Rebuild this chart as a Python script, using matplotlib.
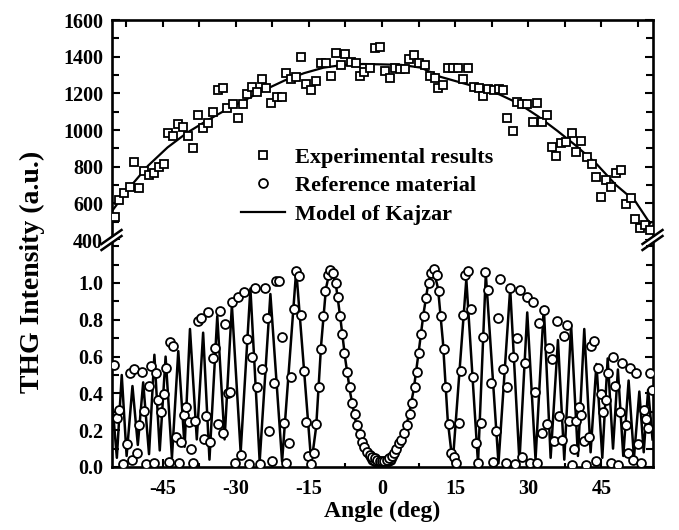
import matplotlib
matplotlib.use("Agg")
import matplotlib.pyplot as plt
from matplotlib.lines import Line2D
from matplotlib.patches import Rectangle
from matplotlib.ticker import MultipleLocator

plt.rcParams['font.family'] = 'Liberation Serif'
plt.rcParams['font.weight'] = 'bold'
plt.rcParams['axes.unicode_minus'] = False

# experimental THG (top panel, squares)
exp_x = [-54.7, -53.9, -52.9, -51.7, -50.9, -49.8, -48.9, -47.8, -46.8, -45.8,
         -44.8, -43.9, -42.9, -41.8, -40.8, -39.8, -38.7, -37.7, -36.7, -35.7,
         -34.6, -33.6, -32.6, -31.7, -30.5, -29.6, -28.6, -27.6, -26.6, -25.6,
         -24.6, -23.7, -22.7, -21.6, -20.6, -19.7, -18.7, -17.7, -16.6, -15.6,
         -14.6, -13.6, -12.5, -11.5, -10.5, -9.4, -8.5, -7.5, -6.4, -5.4,
         -4.6, -3.6, -2.5, -1.5, -0.5, 0.6, 1.6, 2.6, 3.6, 4.7,
         5.5, 6.6, 7.6, 8.8, 9.8, 10.8, 11.5, 12.5, 13.6, 14.6,
         15.6, 16.6, 17.7, 18.9, 19.9, 20.7, 21.8, 23.0, 24.0, 24.8,
         25.7, 26.8, 27.8, 28.8, 29.8, 30.9, 31.9, 32.9, 33.9, 34.8,
         35.8, 36.8, 37.8, 38.9, 39.9, 40.9, 42.0, 43.0, 43.9, 44.9,
         45.9, 47.0, 48.0, 49.0, 50.0, 51.1, 51.9, 52.9, 53.9, 55.0]
exp_y = [524, 618, 655, 691, 824, 685, 778, 755, 764, 797,
         813, 985, 967, 1031, 1018, 967, 904, 1082, 1013, 1040,
         1100, 1218, 1228, 1122, 1142, 1064, 1142, 1195, 1233, 1206,
         1278, 1228, 1146, 1182, 1182, 1313, 1278, 1291, 1396, 1249,
         1218, 1267, 1364, 1364, 1295, 1418, 1355, 1413, 1373, 1364,
         1295, 1318, 1340, 1446, 1451, 1322, 1285, 1336, 1331, 1331,
         1386, 1409, 1367, 1355, 1295, 1282, 1228, 1246, 1336, 1340,
         1340, 1277, 1340, 1236, 1231, 1185, 1224, 1218, 1224, 1218,
         1064, 995, 1151, 1142, 1142, 1042, 1146, 1042, 1082, 909,
         860, 931, 936, 982, 882, 942, 855, 813, 745, 633,
         727, 691, 767, 782, 598, 631, 515, 464, 482, 455]

# model curve for the top panel
fit_x = [-55.5, -52, -48, -44, -40, -36, -32, -28, -24, -20, -16, -12, -8, -4, 0,
         4, 8, 12, 16, 20, 24, 28, 32, 36, 40, 44, 48, 52, 55.0]
fit_y = [554, 680, 805, 905, 985, 1050, 1110, 1165, 1220, 1270, 1310, 1340, 1355, 1360, 1358,
         1355, 1340, 1290, 1260, 1230, 1195, 1145, 1075, 995, 910, 815, 700, 610, 490]

# reference material (bottom panel, circles)
ref_x = [-55.0, -54.4, -53.9, -53.2, -52.4, -51.8, -51.3, -50.8, -50.3, -49.8,
         -49.3, -48.9, -48.4, -47.8, -47.3, -46.8, -46.3, -45.9, -45.3, -44.8,
         -44.3, -43.8, -43.4, -42.9, -42.2, -41.7, -41.2, -40.7, -40.2, -39.7,
         -39.2, -38.7, -38.3, -37.8, -37.1, -36.6, -36.2, -35.7, -35.2, -34.7,
         -34.2, -33.7, -33.2, -32.6, -32.2, -31.6, -31.1, -30.8, -30.2, -29.6,
         -28.9, -28.3, -27.8, -27.2, -26.6, -26.1, -25.7, -25.1, -24.6, -24.1,
         -23.6, -23.1, -22.6, -22.2, -21.7, -21.2, -20.5, -20.1, -19.6, -19.1,
         -18.6, -18.1, -17.6, -17.0, -16.6, -16.1, -15.5, -15.1, -14.5, -14.0,
         -13.5, -13.0, -12.6, -12.1, -11.6, -11.1, -10.6, -10.1, -9.5, -9.0,
         -8.6, -8.2, -7.7, -7.1, -6.6, -6.2, -5.6, -5.1, -4.6, -4.1,
         -3.6, -3.1, -2.5, -2.0, -1.5, -1.0, -0.5, 0.0, 0.5, 1.0,
         1.5, 2.0, 2.4, 2.9, 3.4, 4.0, 4.5, 5.1, 5.7, 6.2,
         6.7, 7.2, 7.6, 8.1, 8.6, 9.1, 9.6, 10.1, 10.6, 11.2,
         11.6, 12.2, 12.7, 13.2, 13.7, 14.2, 14.7, 15.2, 15.7, 16.2,
         16.6, 17.1, 17.7, 18.2, 18.7, 19.2, 19.7, 20.3, 20.7, 21.2,
         21.8, 22.3, 22.8, 23.3, 23.7, 24.3, 24.8, 25.4, 25.7, 26.3,
         26.8, 27.3, 27.8, 28.3, 28.8, 29.3, 29.8, 30.3, 30.9, 31.4,
         31.9, 32.3, 32.9, 33.3, 33.8, 34.3, 34.8, 35.3, 35.9, 36.4,
         36.9, 37.4, 37.9, 38.4, 38.9, 39.4, 39.9, 40.4, 40.9, 41.4,
         41.9, 42.5, 42.9, 43.4, 43.9, 44.3, 44.9, 45.4, 45.9, 46.4,
         46.9, 47.4, 47.9, 48.4, 48.9, 49.3, 50.1, 50.5, 50.9, 51.5,
         52.1, 52.6, 53.1, 53.7, 54.2, 54.6, 55.0, 55.3]
ref_y = [0.554, 0.264, 0.310, 0.016, 0.125, 0.510, 0.038, 0.530, 0.074, 0.227,
         0.516, 0.306, 0.016, 0.440, 0.549, 0.023, 0.509, 0.364, 0.300, 0.397,
         0.536, 0.029, 0.681, 0.658, 0.161, 0.020, 0.138, 0.283, 0.328, 0.246,
         0.096, 0.020, 0.250, 0.793, 0.808, 0.150, 0.277, 0.840, 0.138, 0.590,
         0.648, 0.234, 0.850, 0.186, 0.777, 0.400, 0.410, 0.897, 0.020, 0.922,
         0.065, 0.953, 0.696, 0.016, 0.596, 0.971, 0.436, 0.016, 0.531, 0.971,
         0.808, 0.196, 0.033, 0.458, 1.011, 1.011, 0.705, 0.241, 0.020, 0.132,
         0.487, 0.859, 1.065, 1.038, 0.826, 0.524, 0.246, 0.060, 0.016, 0.074,
         0.232, 0.433, 0.640, 0.821, 0.958, 1.043, 1.071, 1.053, 1.002, 0.922,
         0.821, 0.721, 0.618, 0.518, 0.436, 0.349, 0.288, 0.228, 0.179, 0.138,
         0.107, 0.080, 0.065, 0.055, 0.047, 0.040, 0.035, 0.033, 0.035, 0.040,
         0.047, 0.058, 0.074, 0.100, 0.129, 0.147, 0.183, 0.228, 0.288, 0.349,
         0.436, 0.518, 0.618, 0.721, 0.821, 0.920, 0.998, 1.053, 1.074, 1.043,
         0.958, 0.821, 0.640, 0.433, 0.232, 0.074, 0.056, 0.020, 0.241, 0.524,
         0.826, 1.043, 1.065, 0.857, 0.487, 0.132, 0.020, 0.241, 0.705, 1.058,
         0.962, 0.455, 0.029, 0.196, 0.808, 1.020, 0.531, 0.020, 0.436, 0.971,
         0.600, 0.016, 0.699, 0.962, 0.056, 0.567, 0.925, 0.020, 0.897, 0.410,
         0.020, 0.784, 0.186, 0.853, 0.233, 0.648, 0.588, 0.141, 0.792, 0.276,
         0.148, 0.714, 0.770, 0.251, 0.010, 0.096, 0.252, 0.328, 0.285, 0.141,
         0.010, 0.165, 0.658, 0.686, 0.032, 0.536, 0.396, 0.299, 0.362, 0.513,
         0.020, 0.596, 0.438, 0.010, 0.301, 0.563, 0.228, 0.074, 0.536, 0.038,
         0.511, 0.125, 0.020, 0.310, 0.260, 0.210, 0.509, 0.418]

# model of Kajzar, bottom panel
kaj_x = [-55.5, -54.4, -53.4, -52.4, -51.2, -50.1, -49.0, -47.8, -46.7, -45.6,
         -44.4, -43.1, -41.8, -40.5, -39.4, -38.0, -36.7, -35.4, -33.8, -32.3,
         -30.8, -29.0, -27.0, -25.1, -22.9, -20.5, -17.6, -14.5, -13.5, -12.5,
         -11.5, -10.6, -9.5, -8.5, -7.5, -6.5, -5.5, -4.5, -3.5, -2.5,
         -1.5, 0.0, 1.5, 2.5, 3.5, 4.5, 5.5, 6.5, 7.5, 8.5,
         9.5, 10.5, 11.5, 12.5, 13.5, 14.5, 17.3, 19.7, 21.3, 23.9,
         26.3, 28.2, 29.8, 31.5, 33.2, 34.6, 36.1, 37.4, 38.8, 40.2,
         41.5, 42.8, 44.0, 45.2, 46.3, 47.4, 48.4, 49.5, 50.6, 51.7,
         52.8, 53.7, 54.6, 55.5]
kaj_y = [0.40, 0.05, 0.50, 0.06, 0.44, 0.12, 0.46, 0.07, 0.61, 0.09,
         0.60, 0.05, 0.63, 0.11, 0.75, 0.15, 0.73, 0.04, 0.82, 0.15,
         0.88, 0.08, 0.97, 0.03, 0.94, 0.03, 1.07, 0.02, 0.22, 0.66,
         0.97, 1.08, 1.00, 0.80, 0.58, 0.40, 0.26, 0.15, 0.07, 0.02,
         0.005, 0.0, 0.005, 0.02, 0.08, 0.17, 0.28, 0.42, 0.62, 0.83,
         1.00, 1.08, 0.97, 0.68, 0.25, 0.02, 1.02, 0.02, 1.05, 0.02,
         0.97, 0.03, 0.84, 0.04, 0.87, 0.05, 0.69, 0.04, 0.77, 0.06,
         0.75, 0.08, 0.56, 0.05, 0.59, 0.10, 0.53, 0.06, 0.47, 0.05,
         0.41, 0.08, 0.42, 0.15]

W, H = 679, 530
fig = plt.figure(figsize=(W / 100, H / 100), dpi=100)

def fx(px):
    return px / W

def fy(py):
    return 1 - py / H

left, right = 111.5, 652.5
top_y, brk_y, bot_y = 20, 240, 467

ax_top = fig.add_axes([fx(left), fy(brk_y), fx(right - left), (brk_y - top_y) / H])
ax_bot = fig.add_axes([fx(left), fy(bot_y), fx(right - left), (bot_y - brk_y) / H])

mk = dict(markerfacecolor='white', markeredgecolor='black', markeredgewidth=1.3, linestyle='none')

# top panel
ax_top.plot(fit_x, fit_y, color='black', lw=1.6, zorder=2)
ax_top.plot(exp_x, exp_y, marker='s', markersize=6, zorder=3, **mk)
ax_top.set_xlim(-55.5, 55.5)
ax_top.set_ylim(400, 1600)
ax_top.yaxis.set_major_locator(MultipleLocator(200))
ax_top.yaxis.set_minor_locator(MultipleLocator(100))
ax_top.xaxis.set_major_locator(MultipleLocator(7.5))
ax_top.spines['bottom'].set_visible(False)
ax_top.tick_params(axis='x', which='both', direction='in', top=True, bottom=False,
                   labelbottom=False, length=5, width=1.5)
ax_top.tick_params(axis='y', which='both', direction='in', right=True, width=1.5,
                   labelsize=14.5, pad=6)
ax_top.tick_params(axis='y', which='major', length=6)
ax_top.tick_params(axis='y', which='minor', length=5)

# bottom panel
ax_bot.plot(kaj_x, kaj_y, color='black', lw=1.8, zorder=2)
ax_bot.plot(ref_x, ref_y, marker='o', markersize=6.4, zorder=3, **mk)
ax_bot.set_xlim(-55.5, 55.5)
ax_bot.set_ylim(0, (bot_y - brk_y) / 184.0)
ax_bot.yaxis.set_major_locator(MultipleLocator(0.2))
ax_bot.yaxis.set_minor_locator(MultipleLocator(0.1))
ax_bot.xaxis.set_major_locator(MultipleLocator(15))
ax_bot.xaxis.set_minor_locator(MultipleLocator(7.5))
ax_bot.spines['top'].set_visible(False)
ax_bot.tick_params(which='both', direction='in', right=True, top=False, width=1.5,
                   labelsize=14.5)
ax_bot.tick_params(axis='x', which='major', length=6, pad=9)
ax_bot.tick_params(axis='x', which='minor', length=3)
ax_bot.tick_params(axis='y', which='major', length=6, pad=6)
ax_bot.tick_params(axis='y', which='minor', length=5)
ax_bot.set_yticks([0.0, 0.2, 0.4, 0.6, 0.8, 1.0])
ax_bot.set_yticklabels(['0.0', '0.2', '0.4', '0.6', '0.8', '1.0'])

for ax in (ax_top, ax_bot):
    for s in ax.spines.values():
        s.set_linewidth(1.9)
    for lab in ax.get_xticklabels() + ax.get_yticklabels():
        lab.set_fontweight('bold')

# axis break marks
for xb in (left, right):
    fig.add_artist(Rectangle((fx(xb - 4), fy(brk_y + 3)), 8 / W, 6 / H,
                             transform=fig.transFigure, facecolor='white',
                             edgecolor='none', zorder=10))
    for off in (-3, 3):
        fig.add_artist(Line2D([fx(xb - 10), fx(xb + 10)],
                              [fy(brk_y + off + 7), fy(brk_y + off - 7)],
                              transform=fig.transFigure, color='black', lw=1.8, zorder=11))

# legend
handles = [Line2D([], [], marker='s', markersize=6, **mk),
           Line2D([], [], marker='o', markersize=6.4, **mk),
           Line2D([], [], color='black', lw=1.6)]
labels = ['Experimental results', 'Reference material', 'Model of Kajzar']
ax_top.legend(handles, labels, loc='upper left', bbox_to_anchor=(fx(241), fy(147)),
              bbox_transform=fig.transFigure, frameon=False, borderpad=0,
              borderaxespad=0, handlelength=2.0, handletextpad=0.45, labelspacing=0.36,
              prop={'family': 'Liberation Serif', 'weight': 'bold', 'size': 16})

fig.text(fx(382), fy(511), 'Angle (deg)', ha='center', va='center',
         fontsize=17, fontweight='bold')
fig.text(fx(32), fy(272), 'THG Intensity (a.u.)', ha='center', va='center',
         rotation=90, fontsize=20, fontweight='bold')

fig.savefig('out.png', dpi=100)
